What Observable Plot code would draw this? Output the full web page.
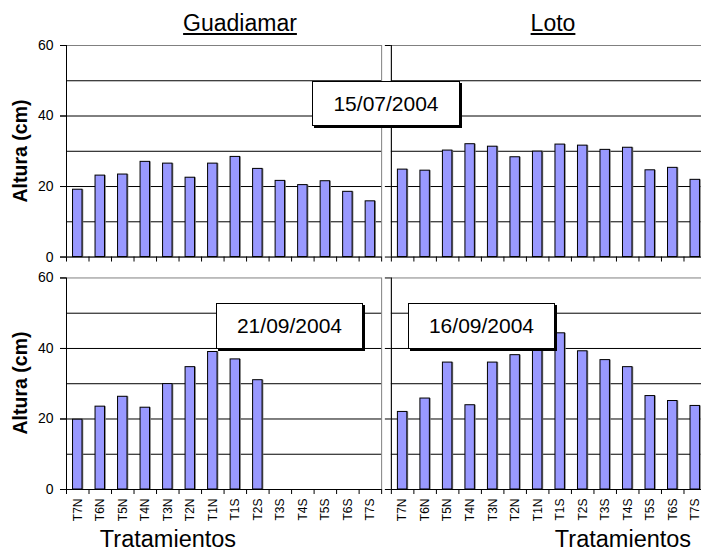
<!DOCTYPE html>
<html><head><meta charset="utf-8">
<script src="https://cdn.jsdelivr.net/npm/d3@7"></script>
<script src="https://cdn.jsdelivr.net/npm/@observablehq/plot@0.6"></script>
<style>
html,body{margin:0;padding:0;overflow:hidden;background:#fff;}
#wrap{position:relative;width:701px;height:551px;overflow:hidden;font-family:"Liberation Sans",Arial,sans-serif;color:#000;}
#wrap svg{position:absolute;left:0;top:0;}
.lbl{position:absolute;white-space:nowrap;}
.title{font-size:23px;line-height:23px;text-decoration:underline;text-underline-offset:2px;text-decoration-thickness:1.5px;width:200px;text-align:center;}
.xlab{font-size:23.5px;line-height:20px;width:200px;text-align:center;}
.ylab{font-size:19.5px;font-weight:bold;line-height:20px;transform:translate(-50%,-50%) rotate(-90deg);}
.date{border:1.5px solid #000;box-shadow:2px 2px 0 #000;background:#fff;font-size:21px;display:flex;align-items:center;justify-content:center;box-sizing:border-box;}
</style></head>
<body><div id="wrap"></div>
<script>
// ---- data ----
const categories = ["T7N","T6N","T5N","T4N","T3N","T2N","T1N","T1S","T2S","T3S","T4S","T5S","T6S","T7S"];
const sites = ["Guadiamar", "Loto"];
const periods = ["julio", "septiembre"];
const dateLabels = ["15/07/2004", "21/09/2004", "16/09/2004"];
const guadiamarJul = [19.1, 23.1, 23.4, 27.0, 26.5, 22.5, 26.5, 28.4, 25.0, 21.6, 20.4, 21.5, 18.5, 15.8];
const lotoJul      = [24.8, 24.5, 30.2, 32.0, 31.3, 28.3, 29.9, 31.9, 31.6, 30.4, 31.0, 24.6, 25.3, 21.9];
const guadiamarSep = [19.8, 23.5, 26.3, 23.2, 29.9, 34.7, 39.0, 36.9, 31.0, null, null, null, null, null];
const lotoSep      = [22.0, 25.8, 36.0, 23.9, 36.0, 38.1, 39.4, 44.3, 39.2, 36.7, 34.7, 26.5, 25.1, 23.7];
const yTicks = [0, 20, 40, 60];
const gridTicks = [10, 20, 30, 40, 50];
const yLabel = "Altura (cm)";
const xLabel = "Tratamientos";

// ---- table ----
const series = [
  [sites[0], periods[0], guadiamarJul],
  [sites[1], periods[0], lotoJul],
  [sites[0], periods[1], guadiamarSep],
  [sites[1], periods[1], lotoSep]
];
const table = [];
for (const [site, period, vals] of series)
  vals.forEach((v, i) => { if (v != null) table.push({site, period, cat: categories[i], value: v}); });

// ---- layout ----
const W = 706, H = 551, ML = 66, MT = 45, MB = 62;
const fxPad = 0.03, fyPad = 0.09;
const panelW = (W - ML) / (sites.length - fxPad) * (1 - fxPad);
const step = panelW / categories.length;

const chart = Plot.plot({
  width: W, height: H,
  marginLeft: ML, marginRight: 0, marginTop: MT, marginBottom: MB,
  style: {fontFamily: '"Liberation Sans", Arial, sans-serif', fontSize: "12px", color: "#000", background: "transparent", maxWidth: "none", overflow: "visible"},
  fx: {domain: sites, paddingInner: fxPad, paddingOuter: 0, round: false, axis: null},
  fy: {domain: periods, paddingInner: fyPad, paddingOuter: 0, round: false, axis: null},
  x: {domain: categories, paddingInner: 0.58, paddingOuter: 0.29, round: false},
  y: {domain: [0, 60]},
  marks: [
    Plot.frame({stroke: "#808080"}),
    Plot.ruleY(gridTicks, {stroke: "#000"}),
    Plot.barY(table, {fx: "site", fy: "period", x: "cat", y: "value", fill: "#7a7a7a", dx: 1.3}),
    Plot.barY(table, {fx: "site", fy: "period", x: "cat", y: "value", fill: "#9999ff", stroke: "#000", strokeWidth: 1}),
    Plot.ruleY([0], {stroke: "#000"}),
    Plot.ruleX([categories[0]], {x: d => d, dx: -step / 2, stroke: "#000"}),
    Plot.axisX({tickSize: 5, fill: "none", dx: -step / 2, facetAnchor: null, label: null}),
    Plot.axisX([categories[categories.length - 1]], {tickSize: 5, fill: "none", dx: step / 2, facetAnchor: null, label: null}),
    Plot.axisX({tickSize: 0, tickPadding: 9, tickRotate: -90, fontSize: 12, label: null}),
    Plot.axisY({ticks: yTicks, tickSize: 6, tickPadding: 7, fontSize: 14, label: null}),
    Plot.axisY({ticks: yTicks, tickSize: 6, fill: "none", facetAnchor: null, label: null})
  ]
});

const wrap = document.getElementById("wrap");
wrap.appendChild(chart);

function add(cls, text, css) {
  const d = document.createElement("div");
  d.className = "lbl " + cls;
  d.textContent = text;
  Object.assign(d.style, css);
  wrap.appendChild(d);
  return d;
}
add("title", sites[0], {left: "140px", top: "12px"});
add("title", sites[1], {left: "453px", top: "12px"});
add("ylab", yLabel, {left: "20px", top: "151px"});
add("ylab", yLabel, {left: "20px", top: "383px"});
add("xlab", xLabel, {left: "68px", top: "529px"});
add("xlab", xLabel, {left: "523px", top: "529px"});
add("date", dateLabels[0], {left: "312px", top: "81px", width: "148px", height: "45px"});
add("date", dateLabels[1], {left: "216px", top: "303px", width: "147px", height: "46px"});
add("date", dateLabels[2], {left: "408px", top: "303px", width: "147px", height: "46px"});
</script>
</body></html>
